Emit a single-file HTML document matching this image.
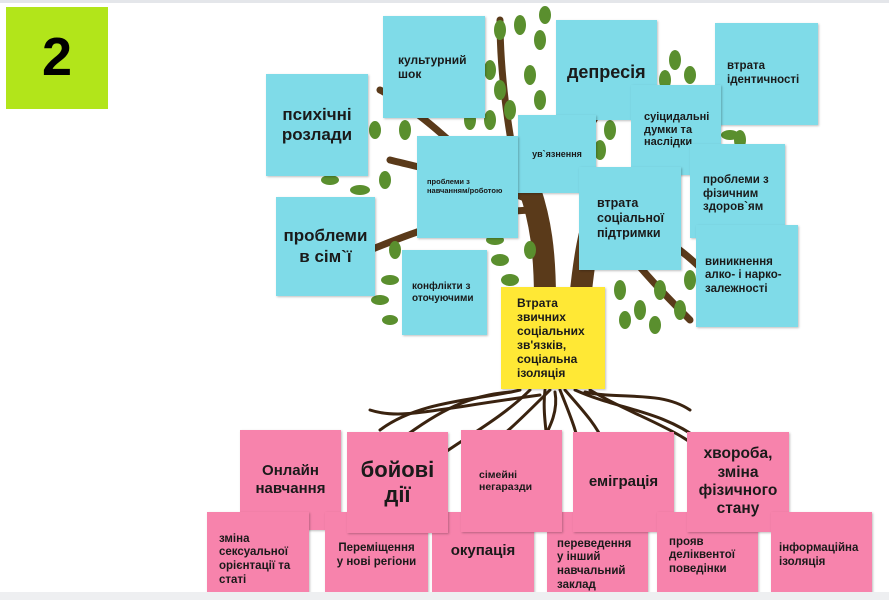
<!DOCTYPE html>
<html><head><meta charset="utf-8"><style>
body{margin:0;width:889px;height:600px;position:relative;overflow:hidden;background:#fff;font-family:"Liberation Sans","DejaVu Sans",sans-serif;}
.n{position:absolute;box-sizing:border-box;font-weight:bold;color:#1a1a1a;display:flex;align-items:center;box-shadow:1px 1px 2px rgba(0,0,0,.25);line-height:1.18}
.b{background:#7fdbe8}.p{background:#f783ac}.y{background:#ffe835}
.c{justify-content:center;text-align:center}
</style></head><body>
<div style="position:absolute;left:0;top:0;width:889px;height:3px;background:#e4e6ea"></div>
<div class="n c" style="left:6px;top:7px;width:102px;height:102px;background:#b2e51a;font-size:54px;color:#000;box-shadow:none">2</div>

<svg style="position:absolute;left:0;top:0" width="889" height="600">
<g fill="none" stroke="#5a3a1a" stroke-linecap="round">
<path d="M545 300 C545 250 540 220 530 190 M580 300 C585 250 590 220 610 180" stroke-width="22"/>
<path d="M530 200 C480 180 430 170 390 160 M540 210 C470 210 420 230 370 250 M600 190 C640 180 690 170 740 150 M600 200 C650 230 690 250 720 290 M520 190 C510 140 500 80 500 20 M560 180 C590 120 620 80 650 40 M480 170 C430 120 400 100 380 90 M610 230 C640 270 670 300 690 320" stroke-width="7"/>
</g>
<g fill="#5a8f2e">
<ellipse cx="340" cy="150" rx="10" ry="5"/><ellipse cx="360" cy="190" rx="10" ry="5"/><ellipse cx="335" cy="215" rx="10" ry="5"/><ellipse cx="380" cy="300" rx="9" ry="5"/><ellipse cx="390" cy="320" rx="8" ry="5"/><ellipse cx="330" cy="180" rx="9" ry="5"/><ellipse cx="385" cy="180" rx="6" ry="9"/><ellipse cx="375" cy="130" rx="6" ry="9"/><ellipse cx="395" cy="250" rx="6" ry="9"/><ellipse cx="390" cy="280" rx="9" ry="5"/>
<ellipse cx="500" cy="30" rx="6" ry="10"/><ellipse cx="520" cy="25" rx="6" ry="10"/><ellipse cx="540" cy="40" rx="6" ry="10"/><ellipse cx="490" cy="70" rx="6" ry="10"/><ellipse cx="530" cy="75" rx="6" ry="10"/><ellipse cx="510" cy="110" rx="6" ry="10"/><ellipse cx="540" cy="100" rx="6" ry="10"/><ellipse cx="500" cy="90" rx="6" ry="10"/><ellipse cx="490" cy="120" rx="6" ry="10"/><ellipse cx="545" cy="15" rx="6" ry="9"/>
<ellipse cx="665" cy="80" rx="6" ry="10"/><ellipse cx="675" cy="60" rx="6" ry="10"/><ellipse cx="740" cy="140" rx="6" ry="10"/><ellipse cx="690" cy="75" rx="6" ry="9"/><ellipse cx="730" cy="135" rx="9" ry="5"/><ellipse cx="700" cy="130" rx="6" ry="9"/>
<ellipse cx="500" cy="260" rx="9" ry="6"/><ellipse cx="510" cy="280" rx="9" ry="6"/><ellipse cx="620" cy="290" rx="6" ry="10"/><ellipse cx="640" cy="310" rx="6" ry="10"/><ellipse cx="660" cy="290" rx="6" ry="10"/><ellipse cx="680" cy="310" rx="6" ry="10"/><ellipse cx="690" cy="280" rx="6" ry="10"/><ellipse cx="625" cy="320" rx="6" ry="9"/><ellipse cx="655" cy="325" rx="6" ry="9"/>
<ellipse cx="600" cy="150" rx="6" ry="10"/><ellipse cx="610" cy="130" rx="6" ry="10"/><ellipse cx="470" cy="120" rx="6" ry="10"/><ellipse cx="405" cy="130" rx="6" ry="10"/><ellipse cx="530" cy="250" rx="6" ry="9"/><ellipse cx="495" cy="240" rx="9" ry="5"/>
</g>
<g fill="none" stroke="#3a2310" stroke-width="3" stroke-linecap="round">
<path d="M520 390 C480 400 420 400 380 430"/><path d="M530 390 C500 420 460 440 420 470"/><path d="M545 390 C540 430 560 470 540 520"/><path d="M560 390 C580 440 590 460 580 560"/><path d="M575 390 C620 410 660 410 700 440"/><path d="M590 390 C640 420 690 430 720 470"/><path d="M550 390 C520 420 500 440 470 460"/><path d="M565 390 C600 430 620 450 600 500"/><path d="M540 395 C430 410 400 420 370 410"/><path d="M555 392 C560 420 540 440 530 470"/><path d="M585 392 C620 400 660 390 690 410"/><path d="M510 392 C470 395 440 410 400 440"/>
</g>
</svg>

<div class="n b c" style="left:266px;top:74px;width:102px;height:102px;font-size:17px">психічні<br>розлади</div>
<div class="n b" style="left:383px;top:16px;width:102px;height:102px;font-size:12px;padding-left:15px">культурний<br>шок</div>
<div class="n b" style="left:556px;top:20px;width:101px;height:100px;font-size:18px;padding-left:11px;align-items:flex-start;padding-top:42px">депресія</div>
<div class="n b" style="left:715px;top:23px;width:103px;height:102px;font-size:11.5px;padding-left:12px">втрата<br>ідентичності</div>
<div class="n b" style="left:631px;top:85px;width:90px;height:90px;font-size:11px;padding-left:13px">суіцидальні<br>думки та<br>наслідки</div>
<div class="n b c" style="left:518px;top:115px;width:78px;height:78px;font-size:9px">ув`язнення</div>
<div class="n b" style="left:417px;top:136px;width:101px;height:102px;font-size:7.5px;padding-left:10px">проблеми з<br>навчанням/роботою</div>
<div class="n b c" style="left:276px;top:197px;width:99px;height:99px;font-size:17px">проблеми<br>в сім`ї</div>
<div class="n b" style="left:402px;top:250px;width:85px;height:85px;font-size:10px;padding-left:10px">конфлікти з<br>оточуючими</div>
<div class="n b" style="left:579px;top:167px;width:102px;height:103px;font-size:12.5px;padding-left:18px">втрата<br>соціальної<br>підтримки</div>
<div class="n b" style="left:690px;top:144px;width:95px;height:94px;font-size:11.5px;padding-left:13px;align-items:flex-start;padding-top:30px">проблеми з<br>фізичним<br>здоров`ям</div>
<div class="n b" style="left:696px;top:225px;width:102px;height:102px;font-size:11.5px;padding-left:9px">виникнення<br>алко- і нарко-<br>залежності</div>
<div class="n y" style="left:501px;top:287px;width:104px;height:102px;font-size:12px;padding-left:16px">Втрата<br>звичних<br>соціальних<br>зв'язків,<br>соціальна<br>ізоляція</div>

<div class="n p c" style="left:240px;top:430px;width:101px;height:100px;font-size:15px">Онлайн<br>навчання</div>
<div class="n p" style="left:207px;top:512px;width:102px;height:88px;font-size:11.5px;padding-left:12px;padding-top:8px">зміна<br>сексуальної<br>орієнтації та<br>статі</div>
<div class="n p c" style="left:325px;top:512px;width:103px;height:88px;font-size:11.5px">Переміщення<br>у нові регіони</div>
<div class="n p c" style="left:432px;top:512px;width:102px;height:88px;font-size:15px;align-items:flex-start;padding-top:30px">окупація</div>
<div class="n p c" style="left:347px;top:432px;width:101px;height:101px;font-size:22px;line-height:1.1">бойові<br>дії</div>
<div class="n p" style="left:547px;top:512px;width:101px;height:88px;font-size:11.5px;padding-left:10px;padding-top:18px">переведення<br>у інший<br>навчальний<br>заклад</div>
<div class="n p" style="left:461px;top:430px;width:101px;height:102px;font-size:10.5px;padding-left:18px">сімейні<br>негаразди</div>
<div class="n p c" style="left:573px;top:432px;width:101px;height:100px;font-size:15px">еміграція</div>
<div class="n p" style="left:657px;top:512px;width:101px;height:88px;font-size:11.5px;padding-left:12px">прояв<br>деліквентої<br>поведінки</div>
<div class="n p c" style="left:687px;top:432px;width:102px;height:100px;font-size:15.5px">хвороба,<br>зміна<br>фізичного<br>стану</div>
<div class="n p" style="left:771px;top:512px;width:101px;height:88px;font-size:11.5px;padding-left:8px">інформаційна<br>ізоляція</div>
<div style="position:absolute;left:0;top:592px;width:889px;height:8px;background:#eeeff1"></div>
</body></html>
